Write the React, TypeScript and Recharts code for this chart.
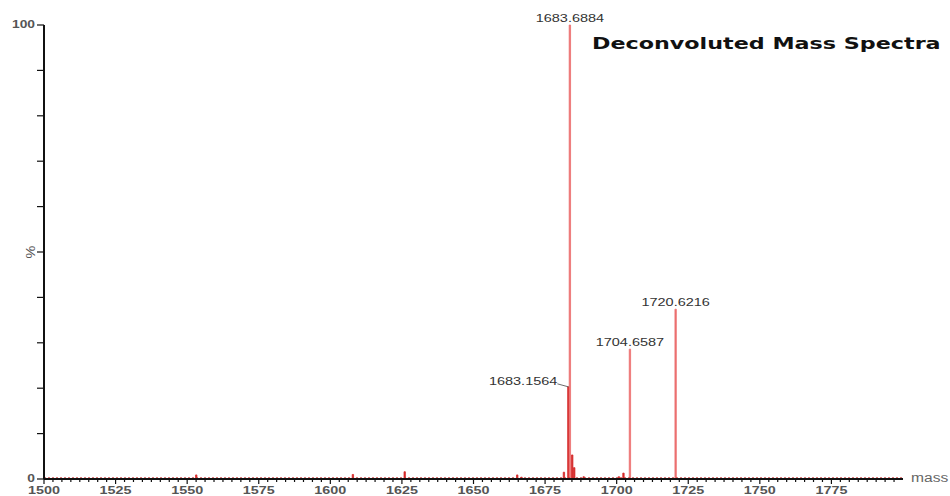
import { Bar, Cell, ComposedChart, LabelList, ReferenceLine, XAxis, YAxis } from 'recharts'

// deconvoluted peaks: mass (Da) and relative intensity (%)
const peakMass = [
  1553.2, 1607.9, 1626.0, 1665.3, 1666.8, 1681.6, 1683.1564, 1683.6884, 1684.5, 1685.2, 1688.5,
  1700.8, 1702.4, 1704.6587, 1720.6216,
]
const peakIntensity = [0.9, 1.0, 1.6, 0.9, 0.4, 1.5, 20.3, 100, 5.3, 2.5, 0.5, 0.5, 1.3, 28.6, 37.4]

const labeledMasses = [1683.1564, 1683.6884, 1704.6587, 1720.6216]
const sideLabelMass = 1683.1564

const massTicks = [1500, 1525, 1550, 1575, 1600, 1625, 1650, 1675, 1700, 1725, 1750, 1775]
const MINOR_STEP = 3.125
const intensityTicks = [0, 10, 20, 30, 40, 50, 60, 70, 80, 90, 100]
const intensityLabels: Record<number, string> = { 0: '0', 50: '%', 100: '100' }

const TITLE = 'Deconvoluted Mass Spectra'
const X_UNIT = 'mass'

const data = peakMass.map((mass, i) => ({ mass, intensity: peakIntensity[i] }))

const allMassTicks: number[] = []
for (let m = 1500; m < 1800; m += MINOR_STEP) allMassTicks.push(m)

const SX = 1.38
const FONT = '"Liberation Sans", Arial, sans-serif'

function MassTick({ x, y, payload }: any) {
  const v = payload.value as number
  const major = massTicks.includes(v)
  return (
    <g>
      <line x1={x} x2={x} y1={y} y2={y + (major ? 5 : 3)} stroke="#111" strokeWidth={1.2} />
      {major && (
        <text
          transform={`translate(${x},${y + 15}) scale(1.25,1)`}
          textAnchor="middle"
          fontSize={11.5}
          fontWeight="bold"
          fontFamily={FONT}
          fill="#555"
        >
          {v}
        </text>
      )}
    </g>
  )
}

function IntensityTick({ x, y, payload }: any) {
  const v = payload.value as number
  const label = intensityLabels[v]
  return (
    <g>
      <line x1={x - 7} x2={x} y1={y} y2={y} stroke="#111" strokeWidth={1.2} />
      {label === '%' ? (
        <text
          transform={`translate(${x - 13},${y}) rotate(-90) scale(1.2,1)`}
          textAnchor="middle"
          dominantBaseline="central"
          fontSize={12}
          fontFamily={FONT}
          fill="#555"
        >
          %
        </text>
      ) : label ? (
        <text
          transform={`translate(${x - 9},${y + 3}) scale(${SX},1)`}
          textAnchor="end"
          fontSize={10}
          fontWeight="bold"
          fontFamily={FONT}
          fill="#555"
        >
          {label}
        </text>
      ) : null}
    </g>
  )
}

function PeakLabel({ x, y, width, value }: any) {
  if (!labeledMasses.includes(value)) return null
  const cx = x + width / 2
  const text = (value as number).toFixed(4)
  if (value === sideLabelMass) {
    return (
      <g>
        <line x1={cx - 11} y1={y - 3} x2={cx} y2={y} stroke="#444" strokeWidth={0.8} />
        <text
          transform={`translate(${cx - 11},${y - 2}) scale(${SX},1)`}
          textAnchor="end"
          fontSize={10.5}
          fontFamily={FONT}
          fill="#333"
        >
          {text}
        </text>
      </g>
    )
  }
  return (
    <text
      transform={`translate(${cx},${y - 3}) scale(${SX},1)`}
      textAnchor="middle"
      fontSize={10.5}
      fontFamily={FONT}
      fill="#333"
    >
      {text}
    </text>
  )
}

export default function App() {
  return (
    <div style={{ position: 'absolute', left: 0, top: 0, width: 950, height: 496, background: '#fff' }}>
      <ComposedChart width={950} height={496} data={data} margin={{ top: 25, right: 47, bottom: 0, left: 0 }}>
        <XAxis
          dataKey="mass"
          type="number"
          domain={[1500, 1800]}
          ticks={allMassTicks}
          interval={0}
          allowDataOverflow
          height={17}
          tickSize={0}
          tickMargin={0}
          tickLine={false}
          tick={<MassTick />}
          axisLine={{ stroke: '#111', strokeWidth: 2 }}
        />
        <YAxis
          type="number"
          domain={[0, 100]}
          ticks={intensityTicks}
          interval={0}
          width={44}
          tickSize={0}
          tickMargin={0}
          tickLine={false}
          tick={<IntensityTick />}
          axisLine={{ stroke: '#111', strokeWidth: 2 }}
        />
        <ReferenceLine y={0.25} stroke="#c83030" strokeDasharray="2 2" strokeWidth={1} />
        <Bar dataKey="intensity" barSize={3} isAnimationActive={false}>
          {data.map((d) => {
            const c = d.intensity > 25 ? '#ec7070' : '#d42828'
            return <Cell key={d.mass} fill={c} stroke={c} strokeWidth={0.8} />
          })}
          <LabelList dataKey="mass" content={<PeakLabel />} />
        </Bar>
      </ComposedChart>
      <div
        style={{
          position: 'absolute',
          left: 592,
          top: 34,
          fontFamily: '"DejaVu Sans", Verdana, sans-serif',
          fontWeight: 'bold',
          fontSize: 16,
          color: '#111',
          whiteSpace: 'nowrap',
          transform: 'scaleX(1.39)',
          transformOrigin: 'left top',
        }}
      >
        {TITLE}
      </div>
      <div
        style={{
          position: 'absolute',
          left: 911,
          top: 471,
          fontFamily: FONT,
          fontSize: 12,
          color: '#666',
          whiteSpace: 'nowrap',
          transform: 'scaleX(1.3)',
          transformOrigin: 'left top',
        }}
      >
        {X_UNIT}
      </div>
    </div>
  )
}
